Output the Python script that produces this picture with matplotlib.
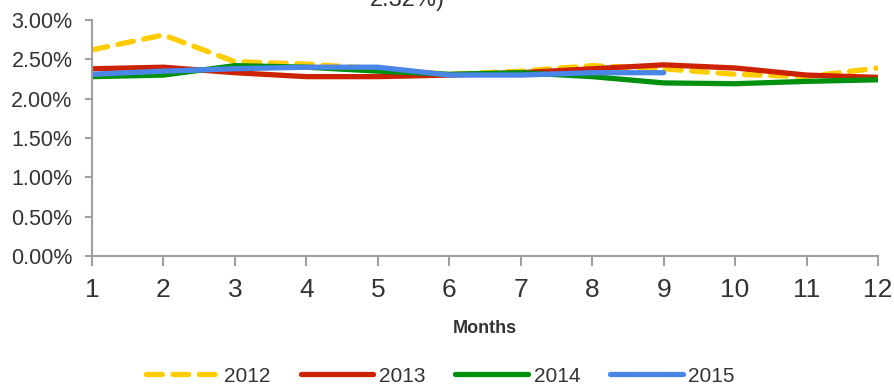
import matplotlib
matplotlib.use("Agg")
import matplotlib.pyplot as plt
from matplotlib.ticker import FuncFormatter

months = list(range(1, 13))
s2012 = [2.62, 2.81, 2.47, 2.44, 2.38, 2.31, 2.35, 2.42, 2.38, 2.31, 2.28, 2.39]
s2013 = [2.38, 2.40, 2.33, 2.28, 2.28, 2.30, 2.33, 2.38, 2.43, 2.39, 2.30, 2.27]
s2014 = [2.28, 2.30, 2.42, 2.40, 2.35, 2.31, 2.33, 2.28, 2.20, 2.19, 2.22, 2.24]
s2015 = [2.31, 2.35, 2.38, 2.40, 2.40, 2.30, 2.30, 2.33, 2.33]
labels = ["2012", "2013", "2014", "2015"]
colors = ["#FFCC00", "#CC2200", "#009010", "#4A86E8"]
yticks = [0.0, 0.5, 1.0, 1.5, 2.0, 2.5, 3.0]

plt.rcParams['font.family'] = ['Liberation Sans', 'DejaVu Sans']
W, H = 895, 385
fig = plt.figure(figsize=(W / 100, H / 100), dpi=100)
ax = fig.add_axes([92 / W, 1 - 256 / H, (878 - 92) / W, (256 - 20) / H])

ax.plot(months, s2012, color=colors[0], lw=3.8, ls=(0, (3, 2)), label=labels[0], solid_capstyle='round', dash_capstyle='round')
ax.plot(months, s2013, color=colors[1], lw=3.8, label=labels[1], solid_capstyle='round')
ax.plot(months, s2014, color=colors[2], lw=3.8, label=labels[2], solid_capstyle='round')
ax.plot(months[:len(s2015)], s2015, color=colors[3], lw=3.8, label=labels[3], solid_capstyle='round')

ax.set_xlim(1, 12)
ax.set_ylim(0, 3.0)
ax.set_xticks(months)
ax.set_yticks(yticks)
ax.yaxis.set_major_formatter(FuncFormatter(lambda v, p: f"{v:.2f}%"))
for s in ["top", "right"]:
    ax.spines[s].set_visible(False)
for s in ["left", "bottom"]:
    ax.spines[s].set_color("#A0A0A0")
    ax.spines[s].set_linewidth(1.5)
ax.tick_params(axis='x', colors="#A0A0A0", length=7, width=1.5, labelsize=19, labelcolor="#333333", pad=9)
ax.tick_params(axis='y', colors="#A0A0A0", length=5, width=1.5, labelsize=15.5, labelcolor="#333333", pad=9)
ax.set_xlabel("Months", fontsize=13, fontweight='bold', color="#333333", labelpad=13)

fig.text(445 / W, 1 - 6 / H, "2.32%)", ha='right', va='baseline', fontsize=17, color="#333333")

leg = fig.legend(loc='center', bbox_to_anchor=(0.492, 1 - 376 / H), ncol=4, frameon=False,
                 fontsize=15, handlelength=3.5, columnspacing=1.45, handletextpad=0.25, labelcolor="#333333")

fig.savefig("out.png", dpi=100)
